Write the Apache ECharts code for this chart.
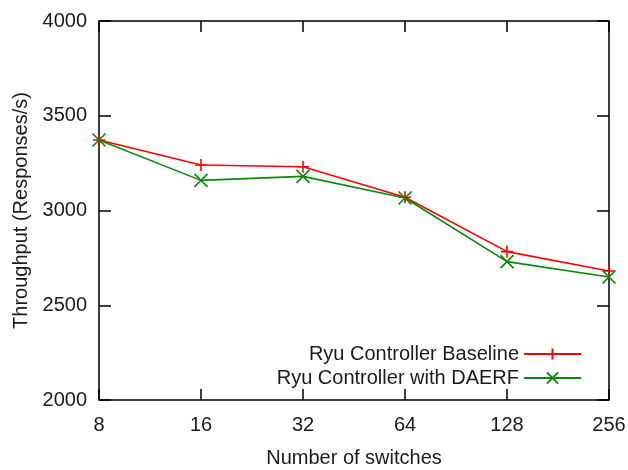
<!DOCTYPE html>
<html><head><meta charset="utf-8">
<script src="https://cdn.jsdelivr.net/npm/echarts@6/dist/echarts.min.js"></script>
<style>html,body{margin:0;padding:0;background:#fff}#c{width:628px;height:470px}</style>
</head><body><div id="c"></div>
<script>
const categories = ['8','16','32','64','128','256'];
const baseline = [3372, 3240, 3231, 3070, 2783, 2681];
const daerf = [3372, 3159, 3180, 3066, 2730, 2649];
const yTicks = {min: 2000, max: 4000, interval: 500};
const seriesNames = ['Ryu Controller Baseline', 'Ryu Controller with DAERF'];

const font = 'Liberation Sans, Arial, sans-serif';
const txt = '#1a1a1a';
const tickStyle = {color: '#000', width: 1.5};
const chart = echarts.init(document.getElementById('c'));
chart.setOption({
  animation: false,
  backgroundColor: '#fff',
  grid: {left: 99, right: 19, top: 21, bottom: 70, show: true, borderColor: '#000', borderWidth: 1.5,
         outerBoundsMode: 'none', containLabel: false},
  legend: {
    orient: 'vertical', right: 41, top: 338, align: 'right',
    itemWidth: 57, itemHeight: 14, itemGap: 2,
    textStyle: {fontFamily: font, fontSize: 20, color: txt, lineHeight: 22},
    data: seriesNames
  },
  xAxis: [{
    type: 'category', data: categories, boundaryGap: false,
    name: 'Number of switches', nameLocation: 'middle', nameGap: 48,
    nameTextStyle: {fontFamily: font, fontSize: 20, color: txt},
    axisLine: {show: false},
    axisTick: {inside: true, length: 11, lineStyle: tickStyle},
    axisLabel: {fontFamily: font, fontSize: 20, color: txt, margin: 15},
    splitLine: {show: false}
  }, {
    type: 'category', data: categories, boundaryGap: false, position: 'top',
    axisLine: {show: false},
    axisTick: {inside: true, length: 11, lineStyle: tickStyle},
    axisLabel: {show: false}, splitLine: {show: false}
  }],
  yAxis: [{
    type: 'value', min: yTicks.min, max: yTicks.max, interval: yTicks.interval,
    name: 'Throughput (Responses/s)', nameLocation: 'middle', nameGap: 66,
    nameTextStyle: {fontFamily: font, fontSize: 20, color: txt},
    axisLine: {show: false},
    axisTick: {show: true, inside: true, length: 12, lineStyle: tickStyle},
    axisLabel: {fontFamily: font, fontSize: 20, color: txt, margin: 12, formatter: v => String(v)},
    splitLine: {show: false}
  }, {
    type: 'value', min: yTicks.min, max: yTicks.max, interval: yTicks.interval, position: 'right',
    axisLine: {show: false},
    axisTick: {show: true, inside: true, length: 12, lineStyle: tickStyle},
    axisLabel: {show: false}, splitLine: {show: false}
  }],
  series: [{
    name: seriesNames[0], type: 'line', data: baseline,
    symbol: 'path://M0,6 L12,6 M6,0 L6,12', symbolSize: 12, showSymbol: true,
    lineStyle: {color: '#ff0000', width: 1.6},
    itemStyle: {color: '#ff0000', borderColor: '#ff0000', borderWidth: 1.6}
  }, {
    name: seriesNames[1], type: 'line', data: daerf,
    symbol: 'path://M0,0 L12,12 M12,0 L0,12', symbolSize: 13, showSymbol: true,
    lineStyle: {color: '#0b870b', width: 1.6},
    itemStyle: {color: '#0b870b', borderColor: '#0b870b', borderWidth: 1.6}
  }]
});
</script></body></html>
